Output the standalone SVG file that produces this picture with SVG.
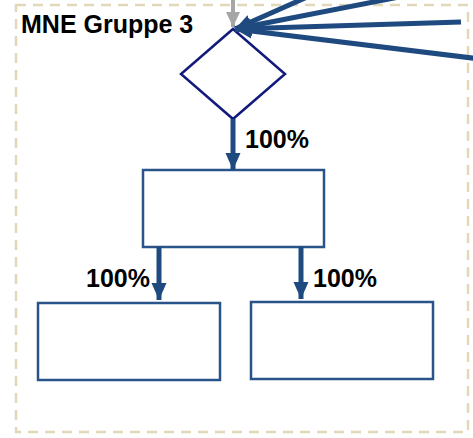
<svg xmlns="http://www.w3.org/2000/svg" width="473" height="438" viewBox="0 0 473 438">
  <style>
    .group { fill: none; stroke: #e0d8b9; stroke-width: 2.5; stroke-dasharray: 10 7; }
    .box { fill: #ffffff; stroke: #2a5389; stroke-width: 2.5; }
    .decision { fill: #ffffff; stroke: #121a7c; stroke-width: 2.5; }
    .flow { fill: none; stroke: #1f4a80; stroke-width: 5; marker-end: url(#head); }
    .inflow { fill: none; stroke: #a6a6a6; stroke-width: 4; marker-end: url(#headGrey); }
    .title { font-family: "Liberation Sans", Arial, sans-serif; font-weight: bold; font-size: 25px; fill: #000000; }
    .pct { font-family: "Liberation Sans", Arial, sans-serif; font-weight: bold; font-size: 25px; fill: #000000; }
  </style>
  <defs>
    <marker id="head" markerUnits="userSpaceOnUse" markerWidth="18" markerHeight="18" refX="17" refY="9" orient="auto">
      <path d="M0,1.5 L17,9 L0,16.5 Z" fill="#1f4a80"/>
    </marker>
    <marker id="headGrey" markerUnits="userSpaceOnUse" markerWidth="16" markerHeight="16" refX="15" refY="8" orient="auto">
      <path d="M0,1 L15,8 L0,15 Z" fill="#a6a6a6"/>
    </marker>
  </defs>

  <!-- group boundary -->
  <rect class="group" x="16" y="5" width="452" height="427"/>
  <text class="title" x="21" y="33">MNE Gruppe 3</text>

  <!-- nodes -->
  <g id="decision">
    <polygon class="decision" points="233,29 285,74 233,119 181,74"/>
  </g>
  <g id="entity-top">
    <rect class="box" x="143" y="170" width="181" height="77"/>
  </g>
  <g id="entity-left">
    <rect class="box" x="38" y="303" width="182" height="77"/>
  </g>
  <g id="entity-right">
    <rect class="box" x="251" y="302" width="182" height="77"/>
  </g>

  <!-- connectors -->
  <g id="connectors">
    <line class="inflow" x1="233" y1="-2" x2="233" y2="27"/>
    <line class="flow" x1="323" y1="-10" x2="235" y2="29"/>
    <line class="flow" x1="435" y1="-10" x2="235" y2="29"/>
    <line class="flow" x1="461" y1="22" x2="235" y2="29"/>
    <line class="flow" x1="480" y1="59" x2="235" y2="29"/>
    <line class="flow" x1="233" y1="119" x2="233" y2="170"/>
    <line class="flow" x1="159" y1="247" x2="159" y2="300"/>
    <line class="flow" x1="301" y1="247" x2="301" y2="299"/>
  </g>

  <!-- connector labels -->
  <text class="pct" x="245" y="148">100%</text>
  <text class="pct" x="86" y="287">100%</text>
  <text class="pct" x="313" y="287">100%</text>
</svg>
